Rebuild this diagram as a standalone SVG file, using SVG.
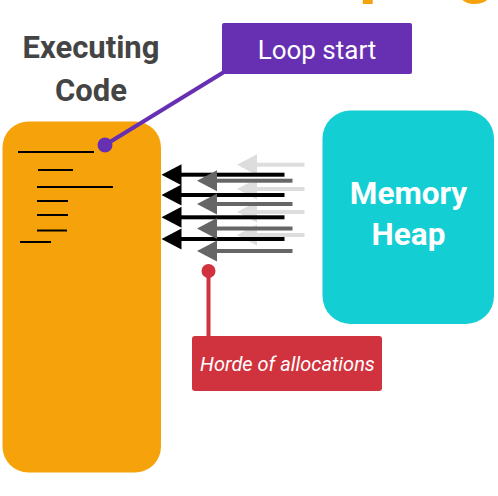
<svg xmlns="http://www.w3.org/2000/svg" width="498" height="496" viewBox="0 0 498 496">
<style>
.code{stroke:#000;stroke-width:2}
.lt{fill:#DDDDDD}
.dk{fill:#666666}
.bk{fill:#000000}
.lbl{font-family:Roboto,"Liberation Sans",sans-serif}
</style>
<defs>
<g id="arrB"><rect x="19" y="-2" width="104" height="4"/><polygon points="0,0 20,-10.5 20,10.5"/></g>
<g id="arrD"><rect x="19" y="-2" width="76.5" height="4"/><polygon points="0,0 20,-10.5 20,10.5"/></g>
<g id="arrL"><rect x="19" y="-2" width="48.5" height="4"/><polygon points="0,0 20,-10.5 20,10.5"/></g>
</defs>
<rect width="498" height="496" fill="#fff"/>
<text class="lbl" x="242" y="-10" font-size="70" font-weight="bold" fill="#F6A30B">Looping</text>
<g id="executing-code">
<rect x="2.5" y="121.5" width="158.5" height="351" rx="26" fill="#F6A30B"/>
<text class="lbl" x="91" y="58" font-size="31" font-weight="bold" fill="#444444" text-anchor="middle">Executing</text>
<text class="lbl" x="91" y="101" font-size="31" font-weight="bold" fill="#444444" text-anchor="middle">Code</text>
<line class="code" x1="18" y1="152" x2="94" y2="152"/>
<line class="code" x1="38" y1="170" x2="73" y2="170"/>
<line class="code" x1="37" y1="187" x2="113" y2="187"/>
<line class="code" x1="37" y1="201" x2="68" y2="201"/>
<line class="code" x1="37" y1="215" x2="68" y2="215"/>
<line class="code" x1="37" y1="230.5" x2="67" y2="230.5"/>
<line class="code" x1="20" y1="242" x2="51" y2="242"/>
</g>
<g id="memory-heap">
<rect x="322.5" y="110.5" width="171.5" height="213.5" rx="28" fill="#13CED3"/>
<text class="lbl" x="408.5" y="203.5" font-size="31.5" font-weight="bold" fill="#fff" text-anchor="middle">Memory</text>
<text class="lbl" x="408.5" y="245" font-size="31.5" font-weight="bold" fill="#fff" text-anchor="middle">Heap</text>
</g>
<g id="connectors">
<g class="lt">
<use href="#arrL" x="237" y="164.7"/>
<use href="#arrL" x="237" y="189"/>
<use href="#arrL" x="237" y="212"/>
<use href="#arrL" x="237" y="235"/>
</g>
<g class="bk">
<use href="#arrB" x="161.5" y="174.7"/>
<use href="#arrB" x="161.5" y="195"/>
<use href="#arrB" x="161.5" y="217.3"/>
<use href="#arrB" x="161.5" y="239"/>
</g>
<g class="dk">
<use href="#arrD" x="197" y="180.7"/>
<use href="#arrD" x="197" y="204"/>
<use href="#arrD" x="197" y="228.5"/>
<use href="#arrD" x="197" y="251"/>
</g>
<line x1="105" y1="145" x2="224" y2="72" stroke="#672FB1" stroke-width="4"/>
<circle cx="105" cy="145" r="7.5" fill="#672FB1"/>
<line x1="208.5" y1="271" x2="208.5" y2="337" stroke="#D1333E" stroke-width="4"/>
<circle cx="208.5" cy="271" r="7" fill="#D1333E"/>
</g>
<g id="loop-start">
<rect x="222" y="23" width="190" height="51" rx="2" fill="#672FB1"/>
<text class="lbl" x="317" y="59" font-size="26" fill="#fff" text-anchor="middle">Loop start</text>
</g>
<g id="horde-of-allocations">
<rect x="192" y="336" width="190" height="55" rx="3" fill="#D1333E"/>
<text class="lbl" x="287.5" y="371" font-size="20" font-style="italic" fill="#fff" text-anchor="middle">Horde of allocations</text>
</g>
</svg>
